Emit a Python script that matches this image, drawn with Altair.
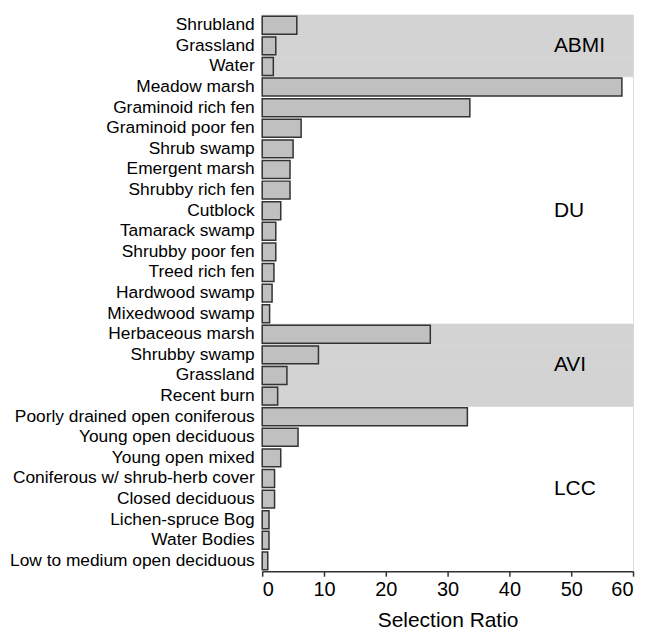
import altair as alt
import pandas as pd

categories = [
    "Shrubland", "Grassland", "Water",
    "Meadow marsh", "Graminoid rich fen", "Graminoid poor fen", "Shrub swamp",
    "Emergent marsh", "Shrubby rich fen", "Cutblock", "Tamarack swamp",
    "Shrubby poor fen", "Treed rich fen", "Hardwood swamp", "Mixedwood swamp",
    "Herbaceous marsh", "Shrubby swamp", "Grassland", "Recent burn",
    "Poorly drained open coniferous", "Young open deciduous", "Young open mixed",
    "Coniferous w/ shrub-herb cover", "Closed deciduous", "Lichen-spruce Bog",
    "Water Bodies", "Low to medium open deciduous",
]
groups = (["ABMI"] * 3 + ["DU"] * 12 + ["AVI"] * 4 + ["LCC"] * 8)
values = [
    5.6, 2.2, 1.8,
    58.2, 33.6, 6.3, 5.0, 4.5, 4.5, 3.0, 2.2, 2.2, 1.9, 1.6, 1.2,
    27.2, 9.1, 4.0, 2.5,
    33.2, 5.8, 3.0, 2.0, 2.0, 1.1, 1.1, 0.9,
]
shaded_groups = ["ABMI", "AVI"]
group_names = ["ABMI", "DU", "AVI", "LCC"]
group_anchor_rows = [1, 9, 16, 22]
group_anchor_pos = ["mid", "mid", "end", "end"]

keys = [f"{i:02d}|{c}" for i, c in enumerate(categories)]
df = pd.DataFrame({"key": keys, "name": categories, "group": groups, "value": values})
df["glabel"] = ""
df["gpos"] = ""
for g, r, p in zip(group_names, group_anchor_rows, group_anchor_pos):
    df.loc[r, "glabel"] = g
    df.loc[r, "gpos"] = p

FONT = "Liberation Sans"
xscale = alt.Scale(domain=[0, 60], nice=False, zero=True)
yscale = alt.Scale(paddingInner=0, paddingOuter=0)

def yenc(band=None):
    kw = {}
    if band is not None:
        kw["bandPosition"] = band
    return alt.Y(
        "key:N", sort=keys, scale=yscale,
        axis=alt.Axis(
            title=None, labelExpr="split(datum.label, '|')[1]", ticks=False,
            domain=False, labelFontSize=17.4, labelColor="black", labelPadding=8,
            labelFont=FONT, labelLimit=400,
        ),
        **kw,
    )

xaxis = alt.Axis(
    title="Selection Ratio", values=[0, 10, 20, 30, 40, 50, 60], grid=False,
    labelFontSize=20, labelColor="black", labelFont=FONT, labelPadding=3,
    titleFontSize=21, titleFont=FONT, titleColor="black", titleFontWeight="normal",
    titlePadding=10, tickSize=5, tickColor="#333333", tickWidth=1.5,
    domainColor="#333333", domainWidth=1.5,
)

base = alt.Chart(df)

bg = base.transform_filter(
    alt.FieldOneOfPredicate(field="group", oneOf=shaded_groups)
).mark_bar(color="#d3d3d3", stroke="#d3d3d3", strokeWidth=0.6).encode(
    y=yenc(),
    x=alt.X(datum=0, scale=xscale, axis=xaxis),
    x2=alt.datum(60),
)

bars = base.mark_bar(
    fill="#c0c0c0", stroke="#333333", strokeWidth=1.5, height={"band": 0.87}
).encode(
    y=yenc(),
    x=alt.X("value:Q", scale=xscale, axis=xaxis),
)

txt_mid = base.transform_filter("datum.gpos == 'mid'").mark_text(
    align="left", baseline="middle", fontSize=21, font=FONT, color="black"
).encode(y=yenc(0.5), x=alt.X(datum=47.2, scale=xscale), text="glabel:N")

txt_end = base.transform_filter("datum.gpos == 'end'").mark_text(
    align="left", baseline="middle", fontSize=21, font=FONT, color="black"
).encode(y=yenc(1), x=alt.X(datum=47.2, scale=xscale), text="glabel:N")

chart = alt.layer(bg, bars, txt_mid, txt_end).properties(
    width=372, height=558, padding={"left": 1, "top": 5, "right": 5, "bottom": 5}
).configure_view(stroke="#333333", strokeWidth=1.5).configure(background="white")

chart.save("out.html", embed_options={"renderer": "svg", "actions": False})
